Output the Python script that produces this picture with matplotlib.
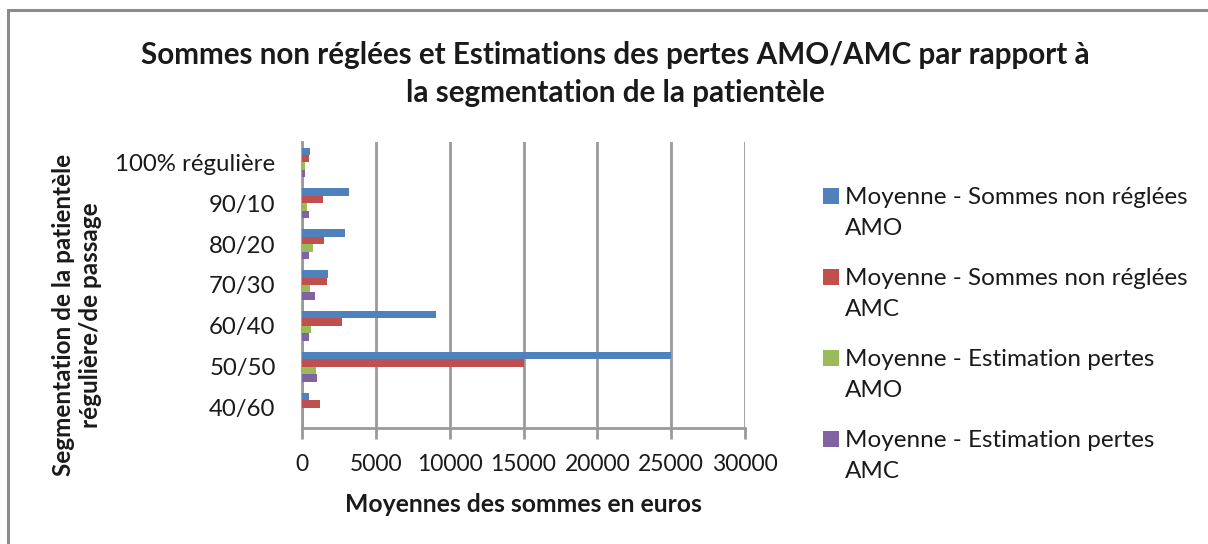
from __future__ import annotations

from pathlib import Path

import matplotlib

matplotlib.use("Agg")
import matplotlib.patches as mpatches
import matplotlib.pyplot as plt
import numpy as np

plt.rcParams["font.family"] = ["Lato", "DejaVu Sans"]

# Patientele segments (regular / walk-in share), top to bottom
segments = ["100% régulière", "90/10", "80/20", "70/30", "60/40", "50/50", "40/60"]

# Average amounts in euros per segment
amo_unpaid = [560, 3160, 2890, 1780, 9060, 25000, 450]
amc_unpaid = [450, 1420, 1510, 1670, 2710, 15000, 1240]
amo_loss = [200, 360, 720, 540, 630, 970, 0]
amc_loss = [200, 470, 450, 900, 450, 990, 0]

series_labels = [
    "Moyenne - Sommes non réglées\nAMO",
    "Moyenne - Sommes non réglées\nAMC",
    "Moyenne - Estimation pertes\nAMO",
    "Moyenne - Estimation pertes\nAMC",
]
series_colors = ["#4F81BD", "#C0504D", "#9BBB59", "#8064A2"]

x_ticks = [0, 5000, 10000, 15000, 20000, 25000, 30000]

W, H = 1208, 544
GRID = "#9a9a9a"
TEXT = "#1a1a1a"


def plot_segmentation(out_png: str | Path) -> None:
    fig = plt.figure(figsize=(W / 100, H / 100), dpi=100)

    # chart frame, open on the right and bottom
    fig.patches.append(
        mpatches.Rectangle(
            (8 / W, -0.1), 1.2, (H - 10) / H + 0.1,
            transform=fig.transFigure, fill=False, edgecolor="#8c8c8c", linewidth=2.2,
        )
    )

    ax = fig.add_axes([302 / W, (H - 428) / H, 443 / W, 286 / H])

    values = [amo_unpaid, amc_unpaid, amo_loss, amc_loss]
    n = len(values)
    bar_h = 1.0 / (n + 1.5)
    y = np.arange(len(segments))
    for i, (vals, color) in enumerate(zip(values, series_colors)):
        offset = (i - (n - 1) / 2) * bar_h
        ax.barh(y + offset, vals, height=bar_h, color=color, zorder=3)

    ax.set_ylim(len(segments) - 0.5, -0.5)
    ax.set_xlim(x_ticks[0], x_ticks[-1])
    ax.set_xticks(x_ticks)
    ax.set_xticklabels([str(t) for t in x_ticks])
    ax.set_yticks(y)
    ax.set_yticklabels(segments)

    ax.grid(axis="x", color=GRID, linewidth=2, zorder=0)
    for side in ("top", "right"):
        ax.spines[side].set_visible(False)
    for side in ("left", "bottom"):
        ax.spines[side].set_color(GRID)
        ax.spines[side].set_linewidth(2)
    ax.tick_params(axis="x", length=8, width=2, color=GRID, labelsize=16.5, pad=11, labelcolor=TEXT)
    ax.tick_params(axis="y", length=0, labelsize=17.3, pad=19, labelcolor=TEXT)

    ax.set_xlabel("Moyennes des sommes en euros", fontsize=17.8, fontweight="bold",
                  labelpad=13, color=TEXT)
    fig.text(77 / W, 1 - 315 / H, "Segmentation de la patientèle\nrégulière/de passage",
             rotation=90, ha="center", va="center", fontsize=17.5, fontweight="bold",
             linespacing=1.25, multialignment="center", color=TEXT)

    fig.text(615 / W, 1 - 74 / H,
             "Sommes non réglées et Estimations des pertes AMO/AMC par rapport à\nla segmentation de la patientèle",
             ha="center", va="center", fontsize=21.3, fontweight="bold", linespacing=1.42, color=TEXT)

    # legend: square beside the first line of each wrapped label
    for i, (label, color) in enumerate(zip(series_labels, series_colors)):
        cy = 196 + 81 * i
        fig.patches.append(
            mpatches.Rectangle((823 / W, 1 - (cy + 8) / H), 16 / W, 16 / H,
                               transform=fig.transFigure, facecolor=color, edgecolor="none")
        )
        fig.text(845 / W, 1 - (cy - 9) / H, label, ha="left", va="top",
                 fontsize=17.5, linespacing=1.6, color=TEXT)

    fig.savefig(out_png, dpi=100)
    plt.close(fig)


if __name__ == "__main__":
    plot_segmentation("out.png")
